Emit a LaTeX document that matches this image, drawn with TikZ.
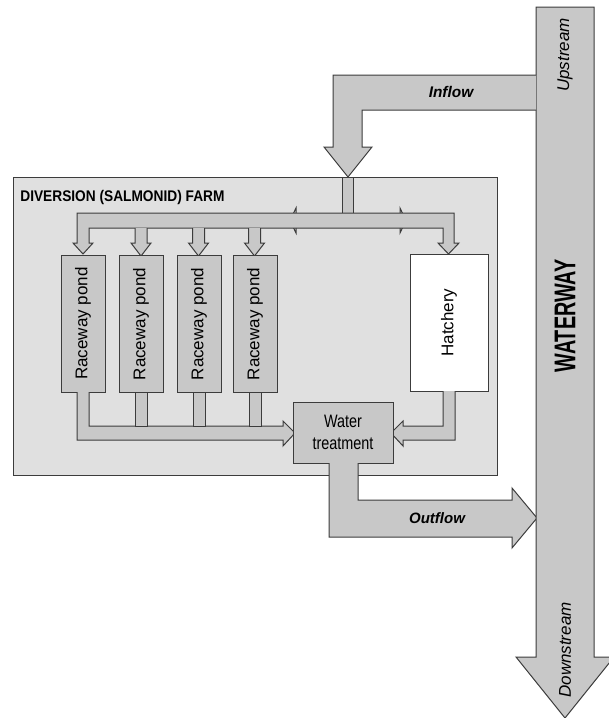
\documentclass[tikz,border=0pt]{standalone}
\usepackage{fontspec}
\setmainfont{Liberation Sans}
\newfontfamily\narrowfont[FakeStretch=0.8]{Liberation Sans}
\newfontfamily\farmfont[FakeStretch=0.89]{Liberation Sans}
\newfontfamily\wayfont[FakeStretch=0.66]{Liberation Sans}
\usetikzlibrary{positioning, calc}
\definecolor{flowgray}{HTML}{C8C8C8}
\definecolor{farmgray}{HTML}{E0E0E0}
\definecolor{edgegray}{HTML}{3C3C3C}

\begin{document}
\begin{tikzpicture}[x=0.5pt, y=-0.5pt,
    flow/.style={fill=flowgray, draw=edgegray, line width=0.5pt, line join=miter},
    pond/.style={rectangle, draw=edgegray, fill=flowgray, line width=0.5pt, minimum width=68.5pt, minimum height=22pt, rotate=90, inner sep=0pt, font=\fontsize{8.5}{10}\selectfont},
    box/.style={rectangle, draw=edgegray, line width=0.5pt, inner sep=0pt},
    lbl/.style={inner sep=0pt, font=\fontsize{8.5}{10}\selectfont\itshape},
    ]
\useasboundingbox (0,0) rectangle (609,718);

% farm
\node[box, fill=farmgray, minimum width=242pt, minimum height=149pt] (farm) at (255,326) {};
\node[anchor=west, inner sep=0pt, font=\fontsize{7.7}{9}\selectfont\bfseries\farmfont] (farmlabel) at (20,197.5) {DIVERSION (SALMONID) FARM};

% distribution
\filldraw[flow] (342,177) rectangle (353,213);
\filldraw[flow] (296,208) -- (290,220.5) -- (296,233) -- cycle;
\filldraw[flow] (400,208) -- (406,220.5) -- (400,233) -- cycle;
\filldraw[flow] (89,243) -- (93,243) -- (83,254) -- (73,243) -- (77,243) -- (77,213)
    -- (454,213) -- (454,243) -- (459,243) -- (448.5,254) -- (438,243) -- (443,243)
    -- (443,228) -- (89,228) -- cycle;
\foreach \cx in {141,198.5,254.5}
    \filldraw[flow] (\cx-6,228) -- (\cx-6,243) -- (\cx-10,243) -- (\cx,256) -- (\cx+10,243) -- (\cx+6,243) -- (\cx+6,228);

% ponds
\node[pond] (pond1) at (83,323.5) {Raceway pond};
\node[pond] (pond2) at (141,324) {Raceway pond};
\node[pond] (pond3) at (199,324) {Raceway pond};
\node[pond] (pond4) at (255,324) {Raceway pond};
\node[pond, fill=white, minimum width=68.5pt, minimum height=39pt] (hatchery) at (449,322.5) {Hatchery};

% collection
\filldraw[flow] (77,392) -- (77,440) -- (283,440) -- (283,446) -- (295,433) -- (283,421)
    -- (283,426) -- (89,426) -- (89,392);
\foreach \cx in {141,199,255}
    \filldraw[flow] (\cx-6,393) -- (\cx-6,426) -- (\cx+6,426) -- (\cx+6,393);
\filldraw[flow] (455,391) -- (455,440) -- (403,440) -- (403,446) -- (391,433) -- (403,421)
    -- (403,426) -- (443,426) -- (443,391);
\node[box, fill=flowgray, minimum width=50pt, minimum height=30.5pt, align=center,
    font=\fontsize{9}{11}\selectfont\narrowfont] (treat) at (343,432.5) {Water\\treatment};

% outflow
\filldraw[flow] (329,463) -- (329,537) -- (512,537) -- (512,548) -- (537,518) -- (512,488)
    -- (512,500) -- (358,500) -- (358,463);
\node[lbl, font=\fontsize{7.5}{9}\selectfont\bfseries\itshape] (outflow) at (437,518) {Outflow};

% waterway
\filldraw[flow] (536,7) -- (594,7) -- (594,657) -- (614,657) -- (565,718) -- (516,657)
    -- (536,657) -- cycle;
\node[inner sep=0pt, rotate=90, font=\fontsize{15}{17}\selectfont\bfseries\wayfont] (waterway) at (565,316) {WATERWAY};
\node[lbl, rotate=90] (upstream) at (565,55) {Upstream};
\node[lbl, rotate=90] (downstream) at (565,650) {Downstream};

% inflow
\filldraw[flow] (536,75) -- (333,75) -- (333,147) -- (324,147) -- (348,177) -- (372,147)
    -- (362,147) -- (362,110) -- (536,110);
\node[lbl, font=\fontsize{7.7}{9}\selectfont\bfseries\itshape] (inflow) at (451,92) {Inflow};

\end{tikzpicture}
\end{document}
